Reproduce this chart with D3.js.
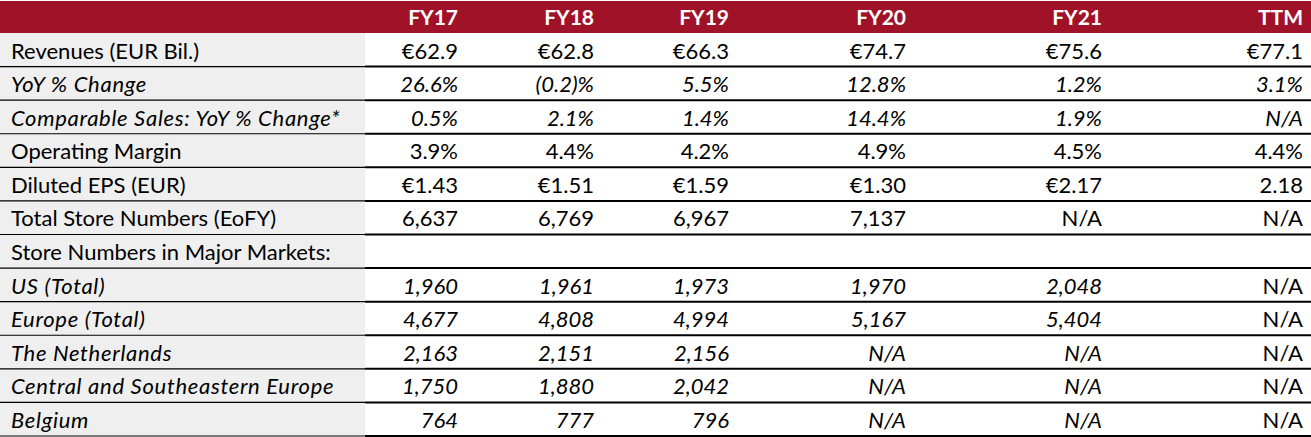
<!DOCTYPE html>
<html>
<head>
<meta charset="utf-8">
<script src="https://cdn.jsdelivr.net/npm/d3@7"></script>
<style>
  html, body { margin: 0; padding: 0; background: #ffffff; }
  svg { display: block; }
  text { font-family: Lato, "Open Sans", "Liberation Sans", sans-serif; }
</style>
</head>
<body>
<svg id="chart" width="1311" height="437"></svg>
<script>
// ---------------- data ----------------
const columns = ["FY17", "FY18", "FY19", "FY20", "FY21", "TTM"];
const rowLabels = [
  "Revenues (EUR Bil.)",
  "YoY % Change",
  "Comparable Sales: YoY % Change*",
  "Operating Margin",
  "Diluted EPS (EUR)",
  "Total Store Numbers (EoFY)",
  "Store Numbers in Major Markets:",
  "US (Total)",
  "Europe (Total)",
  "The Netherlands",
  "Central and Southeastern Europe",
  "Belgium"
];
const revenues          = ["€62.9", "€62.8", "€66.3", "€74.7", "€75.6", "€77.1"];
const yoyChange         = ["26.6%", "(0.2)%", "5.5%", "12.8%", "1.2%", "3.1%"];
const comparableSales   = ["0.5%", "2.1%", "1.4%", "14.4%", "1.9%", "N/A"];
const operatingMargin   = ["3.9%", "4.4%", "4.2%", "4.9%", "4.5%", "4.4%"];
const dilutedEps        = ["€1.43", "€1.51", "€1.59", "€1.30", "€2.17", "2.18"];
const totalStores       = ["6,637", "6,769", "6,967", "7,137", "N/A", "N/A"];
const majorMarkets      = ["", "", "", "", "", ""];
const usStores          = ["1,960", "1,961", "1,973", "1,970", "2,048", "N/A"];
const europeStores      = ["4,677", "4,808", "4,994", "5,167", "5,404", "N/A"];
const netherlandsStores = ["2,163", "2,151", "2,156", "N/A", "N/A", "N/A"];
const ceeStores         = ["1,750", "1,880", "2,042", "N/A", "N/A", "N/A"];
const belgiumStores     = ["764", "777", "796", "N/A", "N/A", "N/A"];
const rowValues = [revenues, yoyChange, comparableSales, operatingMargin, dilutedEps,
  totalStores, majorMarkets, usStores, europeStores, netherlandsStores, ceeStores, belgiumStores];
// rows shown in italics (label + values); TTM column of store rows stays upright
const italicRows = ["YoY % Change", "Comparable Sales: YoY % Change*", "US (Total)",
  "Europe (Total)", "The Netherlands", "Central and Southeastern Europe", "Belgium"];
const uprightTTMRows = ["US (Total)", "Europe (Total)", "The Netherlands",
  "Central and Southeastern Europe", "Belgium"];

// ---------------- layout ----------------
const W = 1311, H = 437;
const headerTop = 1, headerBottom = 33, tableBottom = 436;
const labelColRight = 365;
const colEdges = [365, 466, 602, 737, 914, 1110, 1311]; // column boundaries
const textPadRight = 8;
const red = "#9F1228", gray = "#EFEFEF";

const svg = d3.select("#chart");

const y = d3.scaleBand().domain(rowLabels).range([headerBottom, tableBottom]).paddingInner(0).paddingOuter(0);
const colRight = d3.scaleOrdinal().domain(columns).range(colEdges.slice(1));

// header band
svg.append("rect").attr("x", 0).attr("y", headerTop).attr("width", W)
  .attr("height", headerBottom - headerTop).attr("fill", red);

// gray label column
svg.append("rect").attr("x", 0).attr("y", headerBottom).attr("width", labelColRight)
  .attr("height", tableBottom - headerBottom).attr("fill", gray);

// header labels
svg.append("g").selectAll("text").data(columns).join("text")
  .attr("x", d => colRight(d) - textPadRight)
  .attr("y", headerTop + 24)
  .attr("text-anchor", "end")
  .attr("fill", "#ffffff")
  .attr("font-weight", 700)
  .attr("font-size", 21)
  .text(d => d);

// row separators
const seps = svg.append("g");
rowLabels.forEach(r => {
  const yy = y(r) + y.bandwidth();
  seps.append("line").attr("x1", 0).attr("x2", labelColRight)
    .attr("y1", yy).attr("y2", yy).attr("stroke", "#000").attr("stroke-width", 1.2);
  seps.append("line").attr("x1", labelColRight).attr("x2", W)
    .attr("y1", yy).attr("y2", yy).attr("stroke", "#000").attr("stroke-width", 2);
});

const fontSize = 22;
const baseOff = 25.5;

// row labels
svg.append("g").selectAll("text").data(rowLabels).join("text")
  .attr("x", 11)
  .attr("y", d => y(d) + baseOff)
  .attr("font-size", fontSize)
  .attr("font-style", d => italicRows.includes(d) ? "italic" : "normal")
  .attr("letter-spacing", d => italicRows.includes(d) ? 0.7 : 0)
  .attr("fill", "#000")
  .text(d => d);

// values
const cells = [];
rowLabels.forEach((r, i) => {
  columns.forEach((c, j) => {
    cells.push({ row: r, col: c, value: rowValues[i][j] });
  });
});
svg.append("g").selectAll("text").data(cells).join("text")
  .attr("x", d => colRight(d.col) - textPadRight)
  .attr("y", d => y(d.row) + baseOff)
  .attr("text-anchor", "end")
  .attr("font-size", fontSize)
  .attr("font-style", d => {
    if (!italicRows.includes(d.row)) return "normal";
    if (d.col === "TTM" && uprightTTMRows.includes(d.row)) return "normal";
    return "italic";
  })
  .attr("fill", "#000")
  .text(d => d.value);
</script>
</body>
</html>
